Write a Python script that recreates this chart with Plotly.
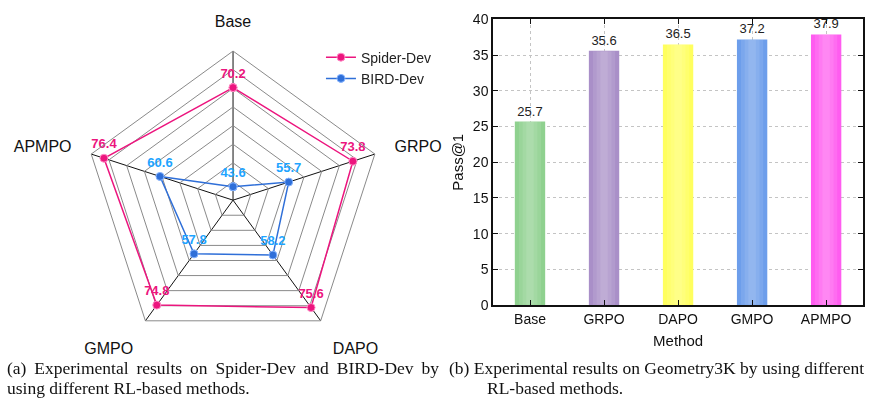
import plotly.graph_objects as go

# ---- data ----
methods = ["Base", "GRPO", "DAPO", "GMPO", "APMPO"]
spider_dev = [70.2, 73.8, 75.6, 74.8, 76.4]
bird_dev = [43.6, 55.7, 58.2, 57.8, 60.6]
geo3k = [25.7, 35.6, 36.5, 37.2, 37.9]
bar_colors = ["#8fd18f", "#a98fc8", "#ffff5e", "#6d9eeb", "#ff5cf0"]

caption_a1 = "(a) Experimental results on Spider-Dev and BIRD-Dev by"
caption_a2 = "using different RL-based methods."
caption_b1 = "(b) Experimental results on Geometry3K by using different"
caption_b2 = "RL-based methods."

PINK = "#ec157e"
BLUE = "#2f6fd8"
BLUE_TXT = "#1ea4ff"

fig = go.Figure()

# closed loops for radar
theta = methods + [methods[0]]
sp = spider_dev + [spider_dev[0]]
bd = bird_dev + [bird_dev[0]]

fig.add_trace(go.Scatterpolar(
    r=sp, theta=theta, mode="lines+markers", name="Spider-Dev",
    line=dict(color=PINK, width=1.5),
    marker=dict(size=8, color=PINK, line=dict(color="#ff8cc6", width=1)),
    subplot="polar",
))
fig.add_trace(go.Scatterpolar(
    r=bd, theta=theta, mode="lines+markers", name="BIRD-Dev",
    line=dict(color=BLUE, width=1.5),
    marker=dict(size=8, color=BLUE, line=dict(color="#86b4ff", width=1)),
    subplot="polar",
))
# value labels
for vals, col in [(spider_dev, PINK), (bird_dev, BLUE_TXT)]:
    fig.add_trace(go.Scatterpolar(
        r=vals, theta=methods, mode="markers+text", text=[f"{v:.1f}" for v in vals],
        marker=dict(size=9, color="rgba(0,0,0,0)"),
        textposition="top center",
        textfont=dict(color=col, size=13, family="Liberation Sans, Arial", weight="bold"),
        showlegend=False, subplot="polar", hoverinfo="skip",
    ))

# ---- bars ----
fig.add_trace(go.Bar(
    x=methods, y=geo3k, marker=dict(color=bar_colors, line=dict(width=0)),
    width=0.41, text=[f"{v:.1f}" for v in geo3k], textposition="outside",
    textfont=dict(size=13, color="#222", family="Liberation Sans, Arial"),
    cliponaxis=False, showlegend=False, xaxis="x", yaxis="y",
))
for w, op in [(0.30, 0.10), (0.20, 0.10), (0.10, 0.10)]:
    fig.add_trace(go.Bar(
        x=methods, y=geo3k, width=w, marker=dict(color="white", line=dict(width=0)),
        opacity=op, showlegend=False, hoverinfo="skip", xaxis="x", yaxis="y",
    ))

fig.update_layout(
    width=871, height=411, margin=dict(l=0, r=0, t=0, b=0),
    paper_bgcolor="white", plot_bgcolor="white",
    font=dict(family="Liberation Sans, Arial", color="#111"),
    barmode="overlay",
    polar=dict(
        domain=dict(x=[0.0896, 0.4455], y=[0.136, 0.891]),
        gridshape="linear", bgcolor="white",
        radialaxis=dict(range=[40, 80], dtick=5, tick0=40, showticklabels=False,
                        ticks="", showline=False, gridcolor="#8a8a8a", gridwidth=1),
        angularaxis=dict(rotation=90, direction="clockwise", gridcolor="#111",
                         linecolor="#8a8a8a", linewidth=1, ticks="outside", ticklen=17,
                         tickcolor="rgba(0,0,0,0)",
                         tickfont=dict(size=16, family="Liberation Sans, Arial", color="#111")),
    ),
    legend=dict(x=0.3685, y=0.915, xanchor="left", yanchor="top",
                font=dict(size=14, family="Liberation Sans, Arial", color="#222"),
                bgcolor="rgba(0,0,0,0)", tracegroupgap=0, itemwidth=30),
    xaxis=dict(domain=[0.566, 0.991], range=[-0.5, 4.5], showline=True, linecolor="#111",
               linewidth=1.5, mirror="ticks", ticks="inside", ticklen=5, tickcolor="#111",
               showgrid=True, gridcolor="#c4c4c4", griddash="dot",
               tickfont=dict(size=14), title=dict(text="Method", font=dict(size=15), standoff=10),
               anchor="y"),
    yaxis=dict(domain=[0.248, 0.971], range=[0, 40], dtick=5, showline=True, linecolor="#111",
               linewidth=1.5, mirror="ticks", ticks="inside", ticklen=5, tickcolor="#111",
               showgrid=True, gridcolor="#c4c4c4", griddash="dot",
               tickfont=dict(size=14), title=dict(text="Pass@1", font=dict(size=15), standoff=6),
               anchor="x", zeroline=False),
)

cap_font = dict(family="Liberation Serif, Times New Roman", size=17.5, color="#111")
for txt, x, y, justify in [(caption_a1, 5, 375, True), (caption_a2, 5, 395, False),
                           (caption_b1, 447, 375, False), (caption_b2, 485, 395, False)]:
    shown = txt.replace(" ", " \u2009") if justify else txt
    fig.add_annotation(text=shown, x=x / 871, y=1 - y / 411, xref="paper", yref="paper",
                       xanchor="left", yanchor="middle", showarrow=False, font=cap_font)

fig.write_html("out.html")
